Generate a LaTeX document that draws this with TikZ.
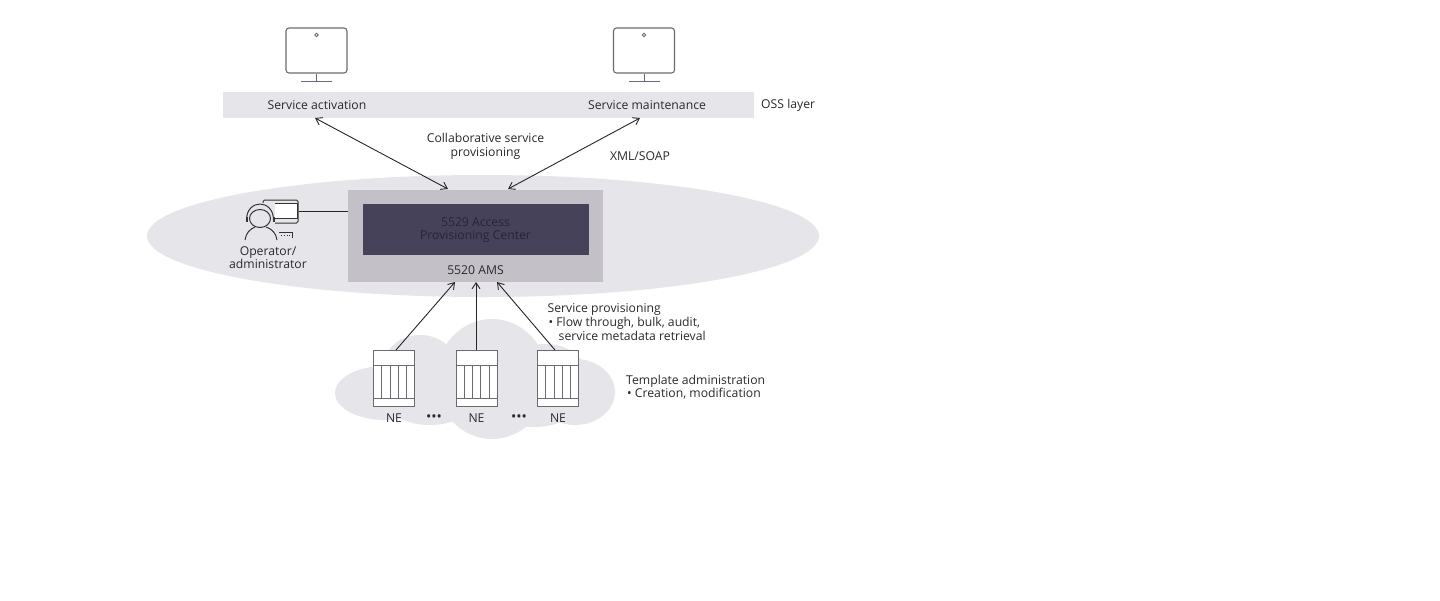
\documentclass[tikz,border=0pt]{standalone}
\usepackage{fontspec}
\setmainfont{Open Sans}
\usepackage{xcolor}
\definecolor{cloudgray}{HTML}{E6E5EA}
\definecolor{amsgray}{HTML}{C3C1C7}
\definecolor{apcdark}{HTML}{46425A}
\definecolor{apctext}{HTML}{26233A}
\definecolor{linegray}{HTML}{6A6A72}
\definecolor{textgray}{HTML}{2A2A2E}
\tikzset{
    lbl/.style={text=textgray,font=\fontsize{12.2}{13.6}\selectfont,inner sep=0pt,align=center},
    lblleft/.style={lbl,align=left,anchor=west},
    dotslbl/.style={lbl,font=\fontsize{14}{14}\selectfont},
    conn/.style={draw=black!85,line width=0.9pt,-{Straight Barb[length=6pt,width=8pt]}},
    both/.style={draw=black!85,line width=0.9pt,{Straight Barb[length=6pt,width=8pt]}-{Straight Barb[length=6pt,width=8pt]}},
    screen/.style={draw=linegray,fill=white,line width=1.1pt,rounded corners=3pt,minimum width=61pt,minimum height=45pt,inner sep=0pt},
    rack/.style={draw=linegray,fill=white,line width=1pt,minimum width=41pt,minimum height=56pt,inner sep=0pt},
    icon/.style={draw=black!80,line width=1pt},
}
\usetikzlibrary{arrows.meta}
\begin{document}
\begin{tikzpicture}[x=1pt,y=-1pt]
                \useasboundingbox (0,0) rectangle (1440,600);
                \fill[white] (0,0) rectangle (1440,600);

                \fill[cloudgray] (483,236) ellipse [x radius=336,y radius=61];
                \node[fill=cloudgray,minimum width=531pt,minimum height=26pt,inner sep=0pt] (ossbar) at (488.5,105) {};
                \node[fill=amsgray,minimum width=255pt,minimum height=92pt,inner sep=0pt] (ams) at (475.5,236) {};
                \node[fill=apcdark,minimum width=226pt,minimum height=51pt,inner sep=0pt] (apc) at (476,229.5) {};

                \fill[cloudgray] (385,393) ellipse [x radius=50,y radius=27];
                \fill[cloudgray] (420,365) ellipse [x radius=36,y radius=30];
                \fill[cloudgray] (492,379) ellipse [x radius=56,y radius=60];
                \fill[cloudgray] (575,392) ellipse [x radius=40,y radius=33];
                \fill[cloudgray] (545,372) ellipse [x radius=40,y radius=28];
                \fill[cloudgray] (430,405) ellipse [x radius=40,y radius=20];
                \fill[cloudgray] (535,405) ellipse [x radius=40,y radius=22];

                \foreach \name/\xpos in {activation/316.5,maintenance/644}{
                    \node[screen] (\name) at (\xpos,50.5) {};
                    \draw[draw=linegray,line width=0.8pt] (\xpos,35) circle (1.8);
                    \coordinate (\name base) at (\xpos,81.5);
                    \draw[draw=linegray,line width=1pt] (\name.south) -- (\name base);
                    \draw[draw=linegray,line width=1.2pt] ([xshift=-15.5pt]\name base) -- ([xshift=15.5pt]\name base);
                }

                \foreach \name/\xpos in {ne1/394,ne2/476.5,ne3/558}{
                    \node[rack] (\name) at (\xpos,378) {};
                    \draw[draw=linegray,line width=0.9pt] (\xpos-20.5,365) -- (\xpos+20.5,365);
                    \draw[draw=linegray,line width=0.9pt] (\xpos-20.5,398) -- (\xpos+20.5,398);
                    \foreach \dx in {-12.5,-4,4,12.5}
                        \draw[draw=linegray,line width=0.9pt] (\xpos+\dx,365) -- (\xpos+\dx,398);
                    \node[lbl] (\name label) at (\xpos,418.5) {NE};
                }

                \node[lbl] (actlabel) at (317,105.5) {Service activation};
                \node[lbl] (mntlabel) at (647,105.5) {Service maintenance};
                \node[lblleft] (osslabel) at (761,105) {OSS layer};
                \node[lbl] (collab) at (485.5,146.5) {Collaborative service\\provisioning};
                \node[lbl] (xml) at (640,156.5) {XML/SOAP};
                \node[lbl,text=apctext] (apclabel) at (475.5,230) {5529 Access\\Provisioning Center};
                \node[lbl] (amslabel) at (475.5,270.5) {5520 AMS};
                \node[lbl] (oplabel) at (268,257.5) {Operator/\\administrator};
                \node[lblleft] (provlabel) at (547.5,322) {Service provisioning\\\hspace*{1pt}• Flow through, bulk, audit,\\\hspace*{11pt}service metadata retrieval};
                \node[lblleft] (tmpllabel) at (626,387) {Template administration\\\hspace*{1pt}• Creation, modification};
                \node[dotslbl] (dots1) at (434,418) {•••};
                \node[dotslbl] (dots2) at (519,418) {•••};

                \coordinate (acttip) at (315,118);
                \coordinate (mnttip) at (640,118);
                \coordinate (amsleft) at (448,189);
                \coordinate (amsright) at (508,189);
                \draw[both] (acttip) -- (amsleft);
                \draw[both] (mnttip) -- (amsright);

                \coordinate (ne1top) at (396,350);
                \coordinate (ne2top) at (476,350);
                \coordinate (ne3top) at (555,350);
                \coordinate (ne1tip) at (455,282);
                \coordinate (ne2tip) at (476,282);
                \coordinate (ne3tip) at (497,282);
                \draw[conn] (ne1top) -- (ne1tip);
                \draw[conn] (ne2top) -- (ne2tip);
                \draw[conn] (ne3top) -- (ne3tip);

                \node[draw=black!80,line width=1pt,rounded corners=1.5pt,minimum width=35pt,minimum height=23pt,inner sep=0pt,fill=cloudgray] (opback) at (280.5,211.5) {};
                \node[draw=black!80,line width=1pt,fill=white,minimum width=29pt,minimum height=15pt,inner sep=0pt] (opscreen) at (282.5,210.5) {};
                \fill[cloudgray] (244,203) rectangle (275,240);
                \draw[icon] (260,218.5) ellipse [x radius=10.5,y radius=9];
                \draw[icon] (246.5,220) .. controls (246.5,198.7) and (273.5,198.7) .. (273.5,220);
                \draw[icon,line width=2pt] (246.5,217) -- (246.5,222);
                \draw[icon,line width=2pt] (273.5,217) -- (273.5,222);
                \draw[icon] (245,240) .. controls (246,233) and (250,229) .. (255,227);
                \draw[icon] (277,240) .. controls (276,233) and (272,229) .. (266,227);
                \draw[icon] (279,232.5) -- (292,232.5) -- (292,238);
                \draw[icon,line width=0.8pt,dotted] (281,235) -- (290,235);

                \draw[draw=black!85,line width=1.1pt] (opback.east) -- (ams.west |- opback.east);
            \end{tikzpicture}
\end{document}
